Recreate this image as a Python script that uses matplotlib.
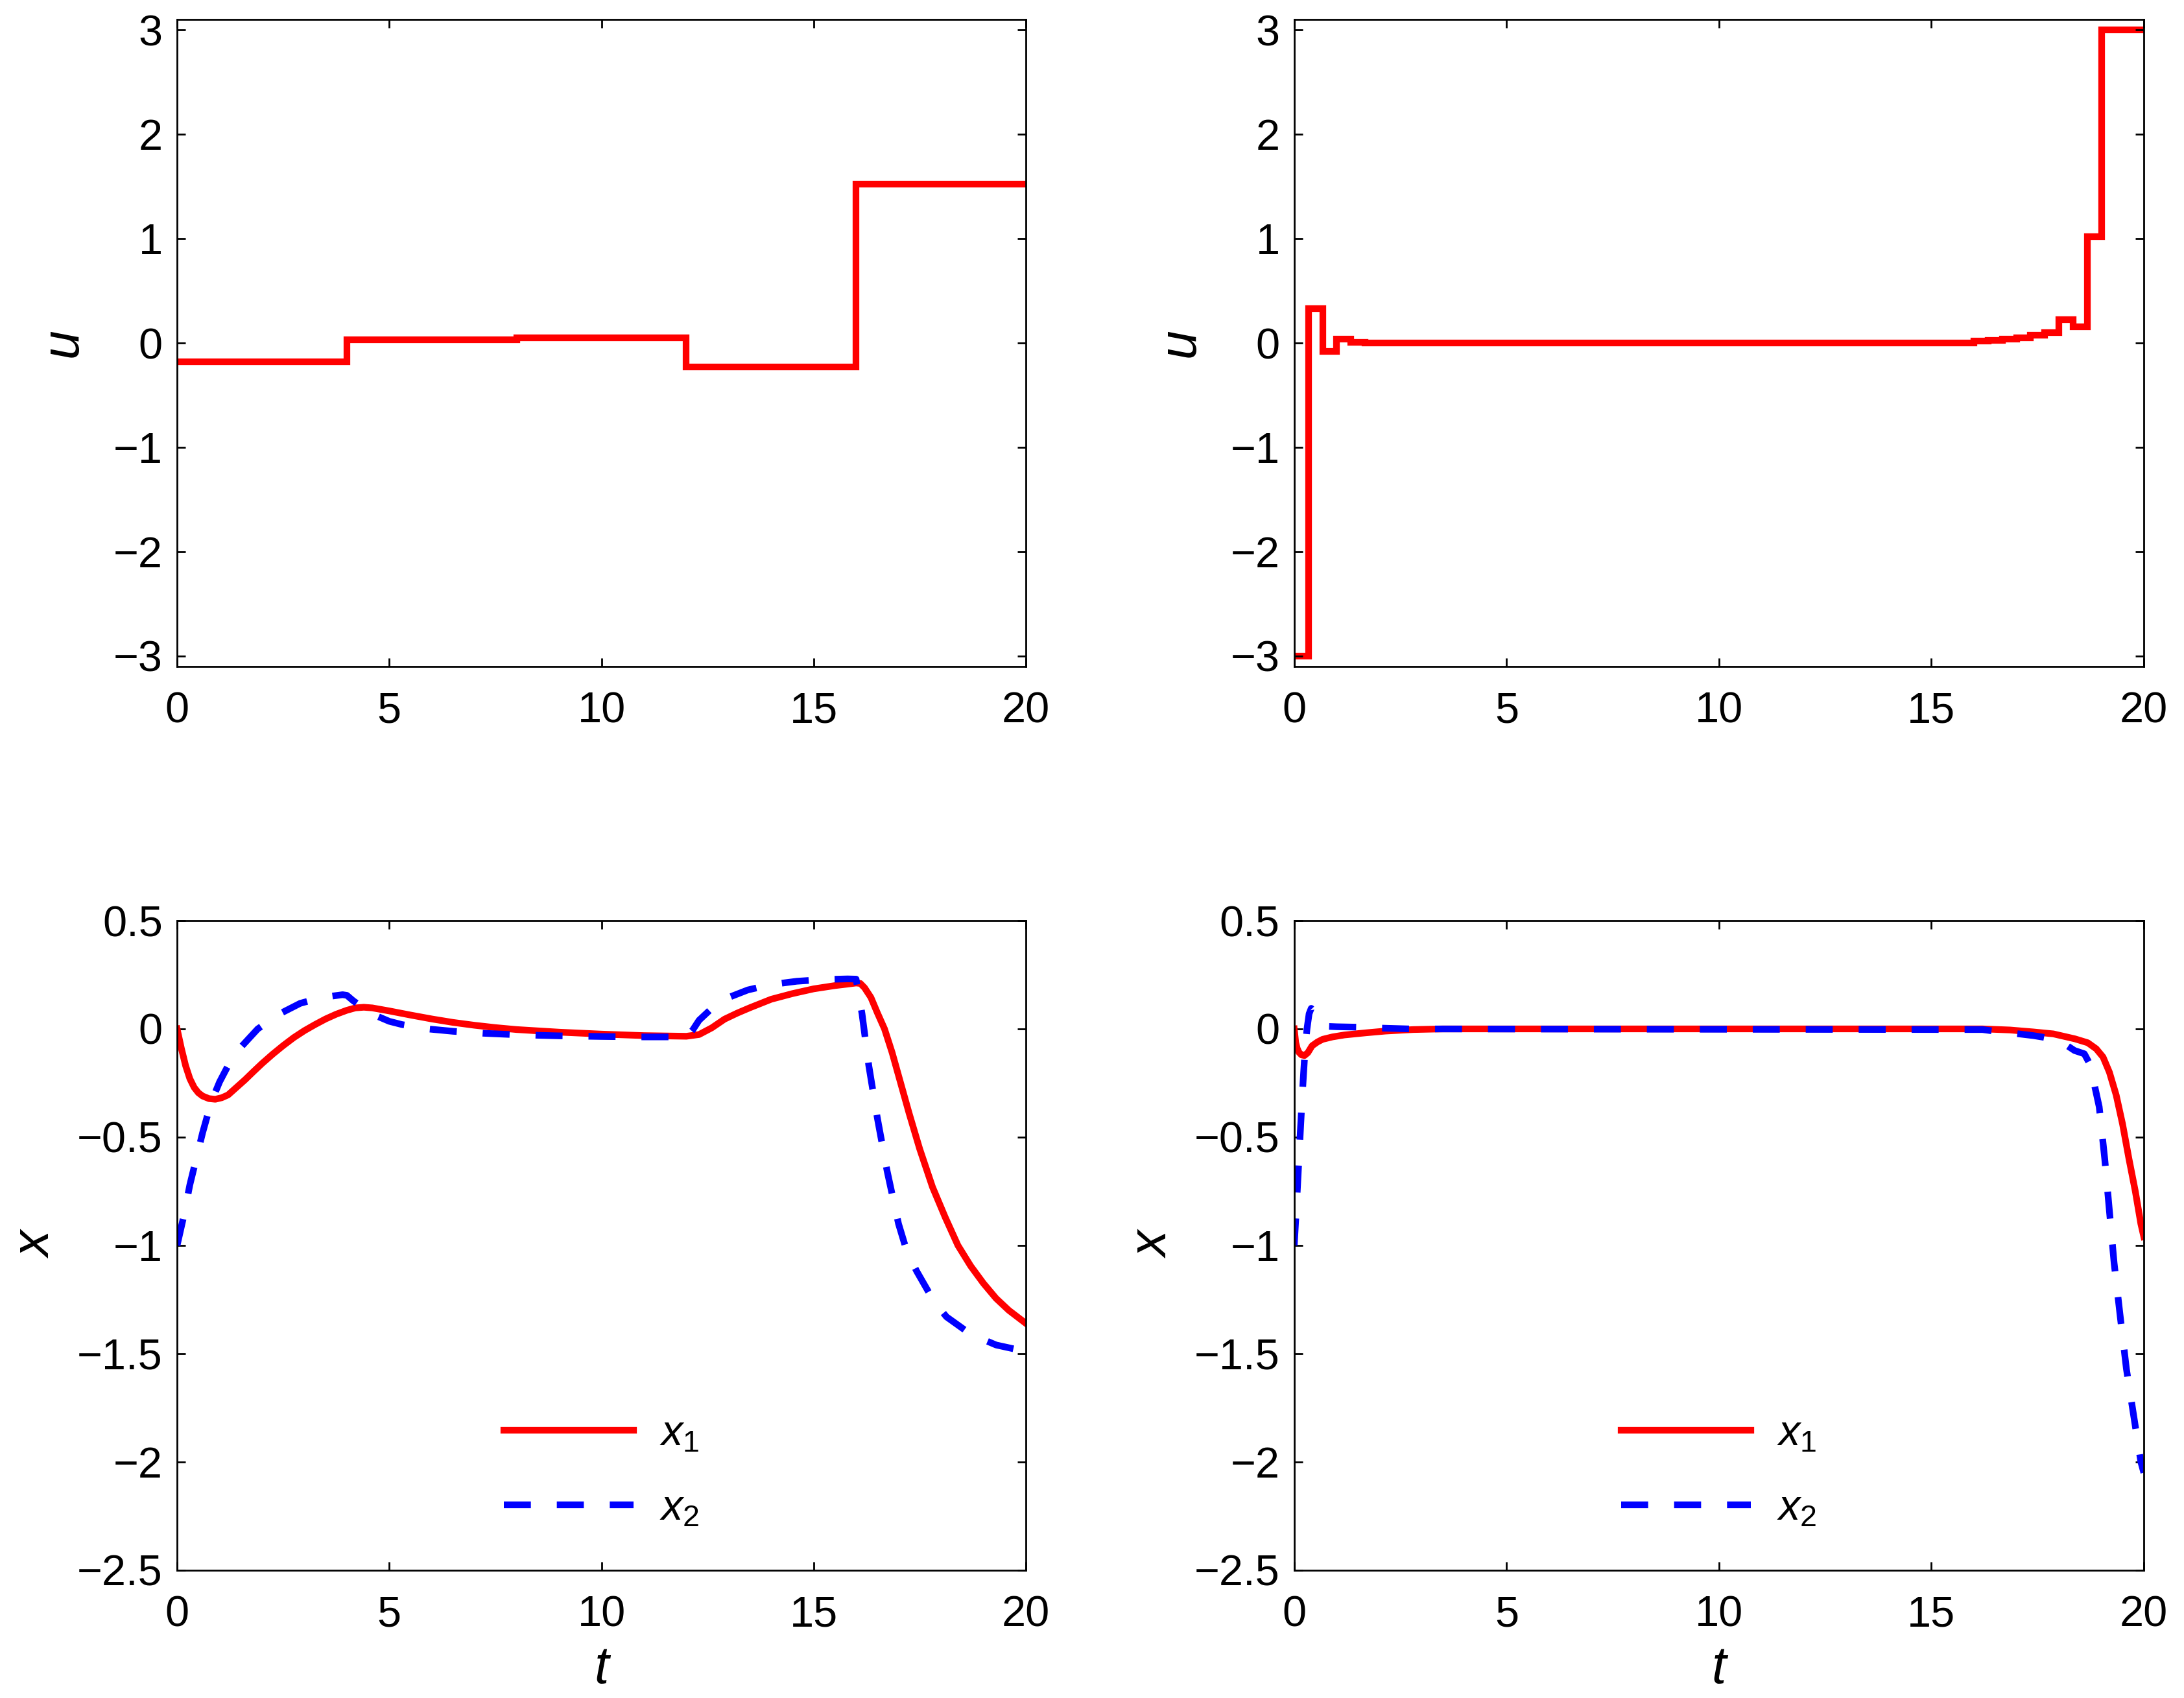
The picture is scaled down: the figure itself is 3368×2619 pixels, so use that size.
import matplotlib
matplotlib.use("Agg")
import matplotlib.pyplot as plt
from matplotlib.ticker import FuncFormatter

plt.rcParams['font.family'] = ['Liberation Sans', 'DejaVu Sans']
plt.rcParams['mathtext.fontset'] = 'custom'
plt.rcParams['mathtext.it'] = 'Liberation Sans:italic'
plt.rcParams['mathtext.rm'] = 'Liberation Sans'

# ---------------- data ----------------
# top-left: control u, piecewise constant
u_left_edges = [0, 4, 8, 12, 16, 20]
u_left_vals = [-0.18, 0.03, 0.05, -0.23, 1.52]

# top-right: control u, piecewise constant
u_right_edges = [0, 1/3, 2/3, 1, 4/3, 5/3, 16, 16 + 1/3, 16 + 2/3, 17, 17 + 1/3,
                 17 + 2/3, 18, 18 + 1/3, 18 + 2/3, 19, 20]
u_right_vals = [-3.0, 0.33, -0.08, 0.04, 0.005, 0.0, 0.02, 0.025, 0.035, 0.05,
                0.072, 0.097, 0.225, 0.153, 1.02, 3.0]

# bottom-left: states
tl_x1 = [0, 0.1, 0.2, 0.3, 0.4, 0.5, 0.6, 0.75, 0.9, 1.05, 1.2, 1.4, 1.6, 1.8, 2.0,
         2.25, 2.5, 2.75, 3.0, 3.25, 3.5, 3.75, 4.0, 4.2, 4.4, 4.6, 5.0, 5.5, 6.0,
         6.5, 7.0, 7.5, 8.0, 9.0, 10.0, 11.0, 12.0, 12.3, 12.6, 12.9, 13.2, 13.5,
         14.0, 14.5, 15.0, 15.5, 15.8, 16.0, 16.1, 16.2, 16.35, 16.5, 16.67, 16.85,
         17.0, 17.25, 17.5, 17.8, 18.1, 18.4, 18.7, 19.0, 19.3, 19.6, 20.0]
x1_left = [0.0, -0.09, -0.17, -0.23, -0.27, -0.295, -0.31, -0.322, -0.325, -0.318,
           -0.305, -0.27, -0.235, -0.197, -0.16, -0.117, -0.077, -0.04, -0.008,
           0.02, 0.046, 0.068, 0.086, 0.097, 0.10, 0.097, 0.083, 0.064, 0.046,
           0.03, 0.017, 0.006, -0.003, -0.015, -0.024, -0.031, -0.034, -0.026,
           0.005, 0.045, 0.073, 0.098, 0.137, 0.163, 0.185, 0.200, 0.207, 0.212,
           0.21, 0.19, 0.145, 0.075, 0.0, -0.11, -0.215, -0.39, -0.555, -0.73,
           -0.87, -1.0, -1.095, -1.175, -1.245, -1.30, -1.36]

tl_x2 = [0, 0.15, 0.3, 0.45, 0.6, 0.8, 1.0, 1.2, 1.5, 1.9, 2.4, 2.9, 3.4, 3.9,
         4.0, 4.15, 4.4, 4.7, 5.0, 5.3, 5.9, 6.5, 7.2, 8.0, 9.0, 10.0, 11.0, 12.0,
         12.15, 12.3, 12.6, 12.9, 13.45, 14.0, 14.6, 15.2, 15.8, 16.0, 16.14, 16.3,
         16.5, 16.73, 17.0, 17.2, 17.43, 17.84, 18.13, 18.7, 19.3, 20.0]
x2_left = [-1.0, -0.87, -0.72, -0.6, -0.48, -0.34, -0.245, -0.17, -0.085, 0.0,
           0.068, 0.118, 0.145, 0.158, 0.155, 0.13, 0.095, 0.06, 0.035, 0.02, 0.0,
           -0.011, -0.02, -0.027, -0.032, -0.035, -0.037, -0.037, -0.005, 0.04,
           0.095, 0.138, 0.18, 0.205, 0.22, 0.228, 0.231, 0.23, 0.07, -0.17,
           -0.41, -0.655, -0.9, -1.03, -1.12, -1.26, -1.33, -1.41, -1.46, -1.49]

# bottom-right: states
tr_x1 = [0, 0.035, 0.07, 0.11, 0.17, 0.24, 0.32, 0.42, 0.55, 0.67, 0.9, 1.18, 1.69,
         2.15, 2.8, 3.5, 16.2, 16.85, 17.4, 17.87, 18.38, 18.68, 18.88, 19.04,
         19.19, 19.35, 19.5, 19.65, 19.8, 19.93, 20.0]
x1_right = [0.0, -0.063, -0.09, -0.108, -0.12, -0.123, -0.11, -0.078, -0.06, -0.048,
            -0.037, -0.028, -0.018, -0.01, -0.003, 0.0, 0.0, -0.005, -0.014,
            -0.023, -0.046, -0.064, -0.092, -0.13, -0.2, -0.306, -0.44, -0.60,
            -0.75, -0.90, -0.96]

tr_x2 = [0, 0.05, 0.1, 0.15, 0.2, 0.25, 0.3, 0.35, 0.4, 0.45, 0.55, 0.65, 0.75, 1.0,
         1.5, 2.0, 2.7, 15.6, 16.2, 16.43, 16.8, 17.4, 17.62, 17.88, 18.1, 18.37,
         18.6, 18.75, 18.85, 18.95, 19.08, 19.19, 19.3, 19.44, 19.59, 19.78,
         19.93, 20.0]
x2_right = [-1.0, -0.83, -0.64, -0.45, -0.27, -0.11, 0.0, 0.07, 0.095, 0.085, 0.05,
            0.025, 0.012, 0.01, 0.008, 0.004, 0.0, -0.003, -0.003, -0.009, -0.017,
            -0.031, -0.038, -0.048, -0.065, -0.10, -0.115, -0.17, -0.27, -0.36,
            -0.60, -0.84, -1.08, -1.32, -1.57, -1.81, -2.0, -2.05]

u_yticks = [-3, -2, -1, 0, 1, 2, 3]
x_yticks = [-2.5, -2, -1.5, -1, -0.5, 0, 0.5]
t_ticks = [0, 5, 10, 15, 20]

# ---------------- figure ----------------
W, H, DPI = 3368, 2619, 200
fig = plt.figure(figsize=(W / DPI, H / DPI), dpi=DPI)

FS = 24
LABFS = 29
LW = 3.7
RED = (1, 0, 0)
BLUE = (0, 0, 1)


def fmt(v, p):
    s = f"{v:g}"
    return s.replace('-', '\u2212')


def style(ax, yticks, ylim):
    ax.set_xlim(0, 20)
    ax.set_ylim(*ylim)
    ax.set_xticks(t_ticks)
    ax.set_yticks(yticks)
    ax.xaxis.set_major_formatter(FuncFormatter(fmt))
    ax.yaxis.set_major_formatter(FuncFormatter(fmt))
    ax.tick_params(direction='in', top=True, right=True, length=4.7, width=1.0,
                   labelsize=FS, color='black')
    ax.tick_params(axis='x', pad=14)
    ax.tick_params(axis='y', pad=8)
    for sp in ax.spines.values():
        sp.set_linewidth(1.0)


xl, xr = 0.0811, 0.5926
wl, wr = 0.3886, 0.3890
top_b, top_h = 0.6075, 0.3810
bot_b, bot_h = 0.0753, 0.3825

ax1 = fig.add_axes([xl, top_b, wl, top_h])
ax2 = fig.add_axes([xr, top_b, wr, top_h])
ax3 = fig.add_axes([xl, bot_b, wl, bot_h])
ax4 = fig.add_axes([xr, bot_b, wr, bot_h])

ax1.stairs(u_left_vals, u_left_edges, baseline=None, color=RED, lw=LW)
ax2.stairs(u_right_vals, u_right_edges, baseline=None, color=RED, lw=LW)
for ax in (ax1, ax2):
    style(ax, u_yticks, (-3.1, 3.1))
    ax.set_ylabel('u', fontsize=LABFS, fontstyle='italic', labelpad=14)

dash = (15 / LW, 14.4 / LW)
for ax, t1, v1, t2, v2 in ((ax3, tl_x1, x1_left, tl_x2, x2_left),
                           (ax4, tr_x1, x1_right, tr_x2, x2_right)):
    ax.plot(t1, v1, color=RED, lw=LW, label='$x_1$', solid_joinstyle='round')
    ax.plot(t2, v2, color=BLUE, lw=LW, ls=(0, dash), label='$x_2$')
    style(ax, x_yticks, (-2.5, 0.5))
    ax.set_ylabel('x', fontsize=LABFS, fontstyle='italic', labelpad=8.5)
    ax.set_xlabel('t', fontsize=LABFS, fontstyle='italic', labelpad=5)
    ax.legend(loc='lower center', bbox_to_anchor=(0.5, 0.003), frameon=False,
              fontsize=FS, handlelength=3.0, handletextpad=0.6, labelspacing=0.8)

fig.savefig('out.png', dpi=DPI)
